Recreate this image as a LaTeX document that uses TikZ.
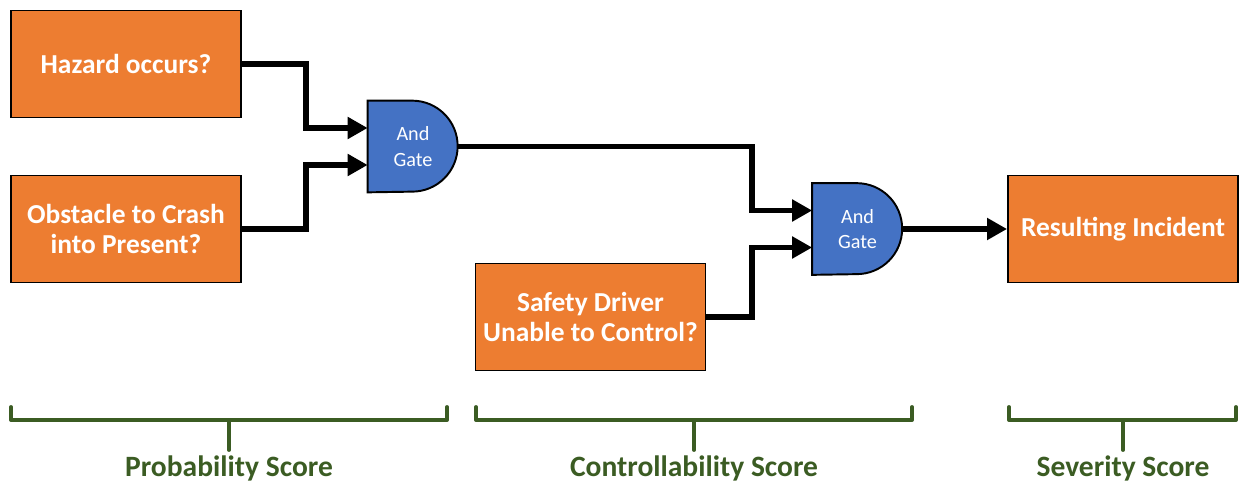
\documentclass[tikz,border=0pt]{standalone}
\usepackage{fontspec}
\setmainfont{Carlito}
\usetikzlibrary{arrows.meta,calc,backgrounds}

\definecolor{boxorange}{HTML}{ED7D31}
\definecolor{gateblue}{HTML}{4472C4}
\definecolor{scoregreen}{HTML}{3B5C23}

\tikzset{
  event/.style={draw=black,line width=1.1pt,fill=boxorange,text=white,
    minimum width=4.6cm,minimum height=2.14cm,align=center,
    font=\bfseries\fontsize{15.6}{17.6}\selectfont},
  andgate/.style={inner sep=0pt,text=white,minimum width=1.8cm,minimum height=1.82cm,
    align=center,font=\fontsize{11.5}{14.5}\selectfont},
  gateline/.style={draw=black,line width=1.1pt,fill=gateblue},
  wire/.style={line width=3.4pt,-{Triangle[length=0.4cm,width=0.42cm]}},
  brace/.style={draw=scoregreen,line width=2.2pt,line cap=round,line join=round},
  score/.style={text=scoregreen,font=\bfseries\fontsize{16.8}{19}\selectfont}
}

\begin{document}
\begin{tikzpicture}
\useasboundingbox (0,0) rectangle (24.78,-9.68);

\node[event](hazard) at (2.52,-1.28) {Hazard occurs?};
\node[event](obstacle) at (2.52,-4.58) {Obstacle to Crash\\into Present?};
\node[event](driver) at (11.81,-6.34) {Safety Driver\\Unable to Control?};
\node[event](result) at (22.46,-4.58) {Resulting Incident};

\node[andgate](g1) at (8.26,-2.93) {And\\Gate};
\node[andgate](g2) at (17.15,-4.58) {And\\Gate};

\begin{scope}[on background layer]
\draw[gateline] (g1.south west) -- (g1.north west) -- ++(0.89,0)
  arc[start angle=90,end angle=-90,radius=0.91] -- cycle;
\draw[gateline] (g2.south west) -- (g2.north west) -- ++(0.89,0)
  arc[start angle=90,end angle=-90,radius=0.91] -- cycle;
\end{scope}

\coordinate (g1a) at ($(g1.west)+(0,0.37)$);
\coordinate (g1b) at ($(g1.west)+(0,-0.37)$);
\coordinate (g2a) at ($(g2.west)+(0,0.37)$);
\coordinate (g2b) at ($(g2.west)+(0,-0.37)$);

\draw[wire] (hazard.east) -- ++(1.28,0) |- (g1a);
\draw[wire] (obstacle.east) -- ++(1.28,0) |- (g1b);
\draw[wire] (g1.east) -- (15.04,-2.93) |- (g2a);
\draw[wire] (driver.east) -- ++(0.92,0) |- (g2b);
\draw[wire] (g2.east) -- (result.west);

\draw[brace] (0.22,-8.14) -- (0.22,-8.4) -- (8.94,-8.4) -- (8.94,-8.14);
\draw[brace] (4.58,-8.4) -- (4.58,-9.0);
\node[score](prob) at (4.58,-9.36) {Probability Score};

\draw[brace] (9.52,-8.14) -- (9.52,-8.4) -- (18.24,-8.4) -- (18.24,-8.14);
\draw[brace] (13.88,-8.4) -- (13.88,-9.0);
\node[score](ctrl) at (13.88,-9.36) {Controllability Score};

\draw[brace] (20.18,-8.14) -- (20.18,-8.4) -- (24.72,-8.4) -- (24.72,-8.14);
\draw[brace] (22.46,-8.4) -- (22.46,-9.0);
\node[score](sev) at (22.46,-9.36) {Severity Score};
\end{tikzpicture}
\end{document}
